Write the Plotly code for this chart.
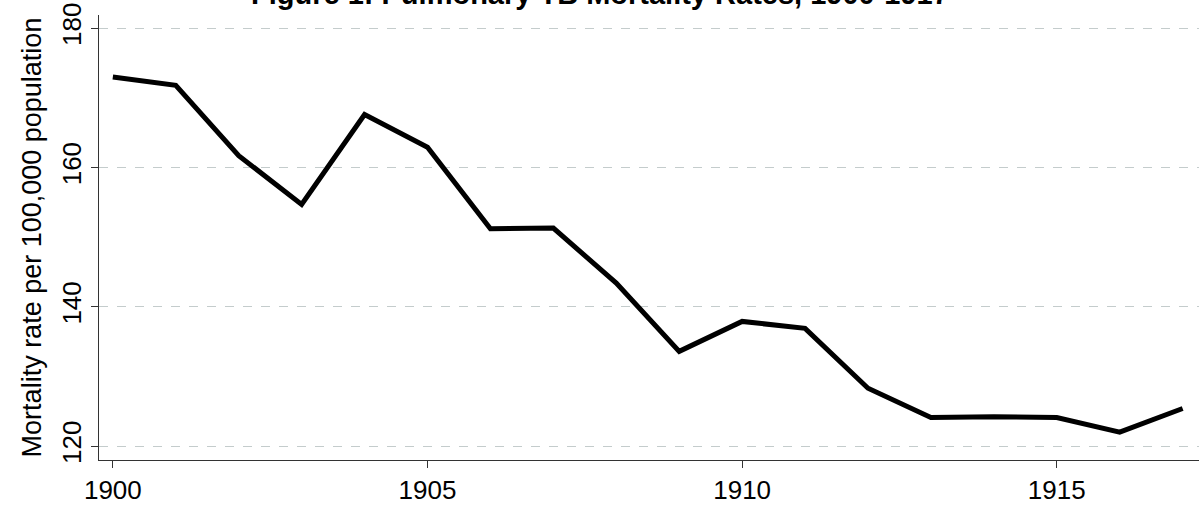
import plotly.graph_objects as go

years = [1900, 1901, 1902, 1903, 1904, 1905, 1906, 1907, 1908,
         1909, 1910, 1911, 1912, 1913, 1914, 1915, 1916, 1917]
mortality = [173.0, 171.8, 161.7, 154.7, 167.6, 162.9, 151.2, 151.3, 143.4,
             133.6, 137.9, 136.9, 128.3, 124.1, 124.2, 124.1, 122.0, 125.4]
x_ticks = [1900, 1905, 1910, 1915]
y_ticks = [120, 140, 160, 180]
title_text = "Figure 1: Pulmonary TB Mortality Rates, 1900-1917"
y_title = "Mortality rate per 100,000 population"

FONT = "Liberation Sans Narrow, Arial Narrow, Liberation Sans, sans-serif"

fig = go.Figure()
fig.add_trace(go.Scatter(
    x=years, y=mortality, mode="lines",
    line=dict(color="black", width=5),
    showlegend=False,
))

fig.update_layout(
    width=1199, height=508,
    margin=dict(l=99, r=0, t=15, b=48),
    paper_bgcolor="white", plot_bgcolor="white",
    font=dict(family=FONT, color="black"),
    annotations=[dict(
        text="<b>" + title_text + "</b>",
        xref="paper", yref="paper", x=0.455, y=(460 - 12) / 445,
        xanchor="center", yanchor="bottom", showarrow=False,
        font=dict(family=FONT, size=29, color="black"),
    )],
    xaxis=dict(
        range=[1899.78, 1917.26],
        tickvals=x_ticks, ticktext=[str(t) for t in x_ticks],
        showgrid=False, zeroline=False,
        showline=True, linecolor="#333333", linewidth=1,
        ticks="outside", ticklen=7, tickcolor="#333333",
        tickfont=dict(size=26, family=FONT),
    ),
    yaxis=dict(
        range=[118.0, 181.9],
        tickvals=y_ticks, ticktext=[str(t) for t in y_ticks],
        tickangle=-90,
        showgrid=True, gridcolor="#c4cccc", griddash="dash", gridwidth=1,
        zeroline=False,
        showline=True, linecolor="#333333", linewidth=1,
        ticks="outside", ticklen=7, tickcolor="#333333",
        tickfont=dict(size=26, family=FONT),
        title=dict(text=y_title, font=dict(size=27, family=FONT), standoff=7),
    ),
)

fig.write_html("out.html", config={"displayModeBar": False},
               post_script="document.body.style.margin='0';")
